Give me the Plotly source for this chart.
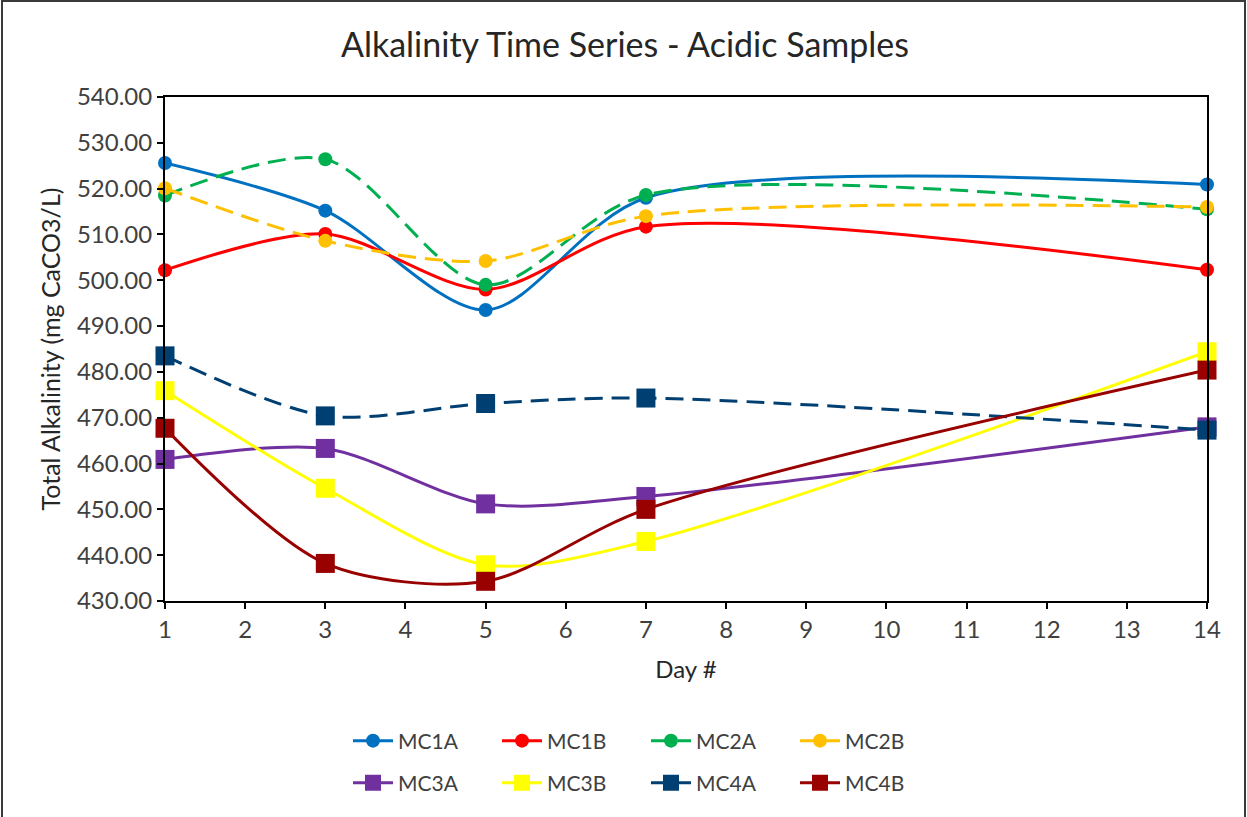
import plotly.graph_objects as go

# Sampling days and total alkalinity readings (mg CaCO3/L)
days = [1, 3, 5, 7, 14]

mc1a = [525.6, 515.2, 493.5, 518.0, 520.9]
mc1b = [502.2, 510.1, 498.0, 511.7, 502.3]
mc2a = [518.5, 526.4, 499.0, 518.6, 515.5]
mc2b = [520.1, 508.6, 504.2, 514.0, 516.0]
mc3a = [460.9, 463.3, 451.2, 452.8, 468.0]
mc3b = [475.9, 454.6, 437.9, 443.0, 484.4]
mc4a = [483.5, 470.4, 473.1, 474.3, 467.3]
mc4b = [467.7, 438.2, 434.3, 450.0, 480.4]

series = [
    ("MC1A", mc1a, "#0070C0", "circle", "solid", "legend"),
    ("MC1B", mc1b, "#FF0000", "circle", "solid", "legend"),
    ("MC2A", mc2a, "#00B050", "circle", "18px,9px", "legend"),
    ("MC2B", mc2b, "#FFC000", "circle", "18px,9px", "legend"),
    ("MC3A", mc3a, "#7030A0", "square", "solid", "legend2"),
    ("MC3B", mc3b, "#FFFF00", "square", "solid", "legend2"),
    ("MC4A", mc4a, "#003F72", "square", "18px,9px", "legend2"),
    ("MC4B", mc4b, "#990000", "square", "solid", "legend2"),
]

FONT = "Lato, Calibri, sans-serif"

fig = go.Figure()
for name, vals, color, symbol, dash, leg in series:
    fig.add_trace(go.Scatter(
        x=days, y=vals, name=name, mode="lines+markers",
        line=dict(color=color, width=3, shape="spline", smoothing=0.85, dash=dash),
        marker=dict(symbol=symbol, color=color, size=14 if symbol == "circle" else 19),
        cliponaxis=False, legend=leg,
    ))

# plot area spans x 165..1207 px, y 97..601 px
L, R, T, B = 165, 1207, 97, 601
W, H = R - L, B - T


def px_x(p):
    return (p - L) / W


def px_y(p):
    return (B - p) / H


axis_common = dict(
    showline=True, linecolor="black", linewidth=2, mirror=True,
    showgrid=False, zeroline=False, ticks="outside", ticklen=6,
    tickcolor="black", tickwidth=2,
    tickfont=dict(family=FONT, size=24, color="#404040"),
)

legend_common = dict(
    orientation="h", xanchor="center", yanchor="middle",
    font=dict(family=FONT, size=21, color="#404040"),
    bgcolor="rgba(0,0,0,0)", entrywidth=94, itemwidth=40,
)

fig.update_layout(
    width=1247, height=817,
    margin=dict(l=L, r=1247 - R, t=T, b=817 - B),
    paper_bgcolor="white", plot_bgcolor="white",
    font=dict(family=FONT, color="#404040"),
    title=dict(text="Alkalinity Time Series - Acidic Samples",
               xref="container", x=625 / 1247, xanchor="center",
               y=1 - 45 / 817, yanchor="middle",
               font=dict(family=FONT, size=34, color="#262626")),
    xaxis=dict(range=[1, 14], tickmode="linear", tick0=1, dtick=1,
               title=dict(text="Day #", font=dict(family=FONT, size=24, color="#262626"),
                          standoff=19),
               **axis_common),
    yaxis=dict(range=[430, 540], tickmode="linear", tick0=430, dtick=10,
               tickformat=".2f",
               title=dict(text="Total Alkalinity (mg CaCO3/L)",
                          font=dict(family=FONT, size=25, color="#262626"),
                          standoff=9),
               **axis_common),
    legend=dict(x=px_x(646), y=px_y(741), **legend_common),
    legend2=dict(x=px_x(646), y=px_y(783), **legend_common),
    showlegend=True,
    shapes=[dict(type="rect", xref="paper", yref="paper",
                 x0=px_x(2), x1=px_x(1245), y0=px_y(830), y1=px_y(1),
                 line=dict(color="#3a3a3a", width=2), layer="below")],
)

fig.write_html("out.html")
